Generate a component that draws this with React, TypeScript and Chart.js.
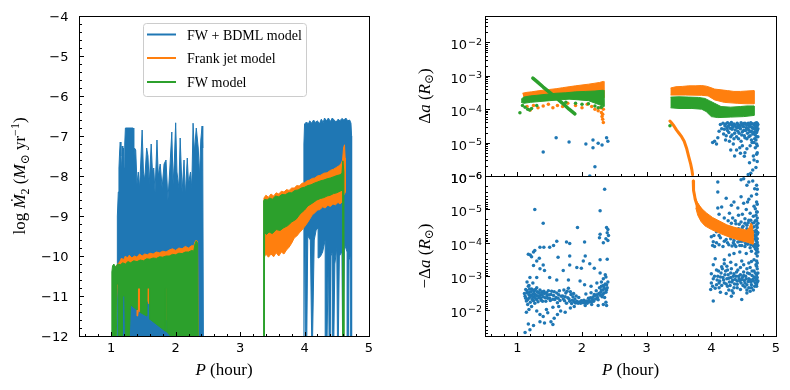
import React, { useEffect, useRef } from 'react';
import Chart from 'chart.js/auto';

type Pt = [number, number];

const BLUE = '#1f77b4';
const ORANGE = '#ff7f0e';
const GREEN = '#2ca02c';
const SERIF = '"Liberation Serif", "DejaVu Serif", serif';
const SANS = '"DejaVu Sans", sans-serif';

const seriesNames = ['FW + BDML model', 'Frank jet model', 'FW model'];
const xMajorTicks = [1, 2, 3, 4, 5];
const leftYTicks = [-12, -11, -10, -9, -8, -7, -6, -5, -4];
const logDecades = [-6, -5, -4, -3, -2];
const LOG_MIN = 1e-6;
const LOG_MAX = 0.0616;

// ---------- Left panel: log Mdot_2 vs P (envelopes of the noisy tracks) ----------
const bdmlSeg1: Pt[] = [
  [1.09, -12], [1.09, -10.2], [1.1, -9.0], [1.11, -8.4], [1.12, -7.8], [1.13, -7.4], [1.14, -7.15], [1.15, -7.5],
  [1.16, -7.9], [1.17, -7.25], [1.18, -7.7], [1.19, -7.3], [1.2, -7.8], [1.21, -7.2], [1.22, -6.8], [1.34, -6.8],
  [1.35, -7.6], [1.36, -7.3], [1.38, -7.35], [1.4, -8.2], [1.42, -7.9], [1.44, -8.3], [1.46, -7.6], [1.48, -6.85],
  [1.5, -7.9], [1.52, -8.1], [1.55, -7.3], [1.57, -7.5], [1.59, -8.2], [1.62, -7.2], [1.64, -7.9], [1.66, -7.8],
  [1.68, -8.4], [1.71, -7.1], [1.73, -8.0], [1.76, -7.7], [1.79, -8.3], [1.82, -7.7], [1.85, -7.6], [1.88, -8.6],
  [1.91, -7.8], [1.94, -6.9], [1.96, -8.2], [1.98, -7.6], [2.0, -6.67], [2.02, -7.9], [2.05, -8.3], [2.07, -7.05],
  [2.1, -8.4], [2.13, -7.6], [2.15, -8.5], [2.18, -7.55], [2.2, -8.2], [2.23, -7.9], [2.25, -8.3], [2.27, -6.68],
  [2.29, -7.4], [2.32, -6.8], [2.35, -7.3], [2.37, -8.0], [2.39, -7.1], [2.41, -6.75], [2.42, -7.3], [2.43, -12],
];
const bdmlSeg2: Pt[] = [
  [3.99, -12], [3.99, -7.2], [4.0, -6.7], [4.03, -6.65], [4.06, -6.7], [4.08, -6.62], [4.11, -6.68], [4.14, -6.6],
  [4.17, -6.66], [4.2, -6.62], [4.23, -6.7], [4.26, -6.58], [4.29, -6.66], [4.31, -6.55], [4.34, -6.62], [4.37, -6.55],
  [4.4, -6.64], [4.43, -6.55], [4.46, -6.6], [4.49, -6.65], [4.52, -6.58], [4.55, -6.62], [4.58, -6.56], [4.61, -6.6],
  [4.64, -6.55], [4.67, -6.62], [4.7, -6.6], [4.72, -6.68], [4.73, -7.0],
  [4.73, -12], [4.715, -12], [4.71, -10.0], [4.69, -10.1], [4.68, -12], [4.665, -12], [4.66, -9.9], [4.62, -9.7],
  [4.605, -12], [4.59, -12], [4.58, -9.9], [4.54, -10.0], [4.525, -12], [4.51, -12], [4.5, -9.8], [4.47, -10.2],
  [4.455, -12], [4.44, -12], [4.43, -9.9], [4.41, -10.0], [4.395, -12], [4.38, -12], [4.37, -9.8], [4.35, -12],
  [4.33, -12], [4.32, -9.6], [4.28, -9.9], [4.25, -10.0], [4.22, -10.05], [4.21, -9.3], [4.18, -9.35], [4.15, -9.6],
  [4.125, -12], [4.11, -12], [4.09, -9.6], [4.05, -9.5], [4.035, -12], [4.02, -12], [4.01, -9.6],
];
const frankSeg1: Pt[] = [
  [1.03, -12], [1.03, -10.35], [1.06, -10.3], [1.1, -10.2], [1.13, -10.15], [1.16, -10.05], [1.19, -10.1], [1.22, -10.0],
  [1.25, -10.05], [1.28, -9.98], [1.32, -10.05], [1.36, -10.0], [1.4, -10.03], [1.44, -9.95], [1.48, -10.0], [1.52, -9.95],
  [1.56, -9.97], [1.6, -9.93], [1.65, -9.95], [1.7, -9.9], [1.75, -9.92], [1.8, -9.88], [1.85, -9.9], [1.9, -9.85],
  [1.95, -9.82], [2.0, -9.86], [2.05, -9.8], [2.1, -9.82], [2.15, -9.76], [2.2, -9.8], [2.25, -9.74], [2.28, -9.75],
  [2.3, -9.65], [2.32, -9.6], [2.34, -9.65], [2.35, -12],
  [2.33, -12], [2.32, -10.6], [1.86, -10.6], [1.855, -11.6], [1.848, -11.6], [1.845, -10.6], [1.6, -10.6], [1.59, -11.2],
  [1.555, -11.1], [1.55, -10.6], [1.455, -10.6], [1.45, -11.4], [1.43, -11.25], [1.41, -11.5], [1.4, -10.6], [1.1, -10.6],
  [1.05, -12],
];
const fwSeg1: Pt[] = [
  [1.01, -12], [1.01, -10.4], [1.02, -10.25], [1.04, -10.2], [1.07, -10.28], [1.1, -10.2], [1.14, -10.22], [1.18, -10.17],
  [1.22, -10.2], [1.26, -10.14], [1.3, -10.17], [1.35, -10.12], [1.4, -10.14], [1.45, -10.1], [1.5, -10.12], [1.55, -10.07],
  [1.6, -10.08], [1.65, -10.05], [1.7, -10.06], [1.75, -10.02], [1.8, -10.03], [1.85, -10.0], [1.9, -10.0], [1.95, -9.96],
  [2.0, -9.97], [2.05, -9.93], [2.1, -9.94], [2.15, -9.9], [2.2, -9.9], [2.25, -9.86], [2.28, -9.88], [2.3, -9.7],
  [2.32, -9.62], [2.34, -9.68], [2.35, -12],
  [1.92, -12], [1.865, -11.9], [1.86, -10.8], [1.845, -10.8], [1.84, -11.88], [1.6, -11.58], [1.595, -10.8], [1.555, -10.8],
  [1.55, -11.5], [1.46, -11.42], [1.455, -10.8], [1.405, -10.8], [1.4, -11.35], [1.3, -11.22], [1.28, -12], [1.22, -12],
  [1.21, -11.0], [1.18, -11.0], [1.17, -12], [1.12, -12], [1.11, -10.7], [1.09, -10.7], [1.08, -12],
];
const frankSeg2: Pt[] = [
  [3.365, -9.9], [3.37, -8.55], [3.4, -8.48], [3.44, -8.53], [3.48, -8.45], [3.52, -8.5], [3.56, -8.42], [3.6, -8.45],
  [3.64, -8.38], [3.68, -8.4], [3.72, -8.34], [3.76, -8.36], [3.8, -8.3], [3.84, -8.3], [3.88, -8.24], [3.92, -8.25],
  [3.96, -8.18], [4.0, -8.17], [4.04, -8.12], [4.08, -8.1], [4.12, -8.06], [4.16, -8.05], [4.2, -8.0], [4.25, -7.98],
  [4.3, -7.93], [4.35, -7.92], [4.4, -7.86], [4.45, -7.83], [4.5, -7.78], [4.54, -7.74], [4.57, -7.68], [4.59, -7.6],
  [4.605, -7.3], [4.62, -7.22], [4.63, -7.55], [4.635, -8.4],
  [4.62, -8.45], [4.6, -8.5], [4.58, -8.65], [4.55, -8.7], [4.52, -8.66], [4.48, -8.72], [4.44, -8.7], [4.4, -8.76],
  [4.36, -8.73], [4.32, -8.8], [4.28, -8.77], [4.24, -8.84], [4.2, -8.85], [4.16, -8.92], [4.12, -8.97], [4.08, -9.08],
  [4.04, -9.18], [4.0, -9.27], [3.96, -9.35], [3.92, -9.42], [3.88, -9.5], [3.84, -9.55], [3.8, -9.68], [3.76, -9.78],
  [3.72, -9.85], [3.68, -9.95], [3.64, -9.9], [3.6, -10.0], [3.56, -9.92], [3.52, -10.02], [3.48, -9.95], [3.44, -10.03],
  [3.4, -9.95], [3.37, -10.05],
];
const fwSeg2: Pt[] = [
  [3.365, -12], [3.365, -8.62], [3.38, -8.58], [3.42, -8.6], [3.46, -8.55], [3.5, -8.58], [3.55, -8.5], [3.6, -8.52],
  [3.65, -8.46], [3.7, -8.47], [3.75, -8.42], [3.8, -8.42], [3.85, -8.36], [3.9, -8.35], [3.95, -8.3], [4.0, -8.28],
  [4.05, -8.24], [4.1, -8.22], [4.15, -8.18], [4.2, -8.15], [4.25, -8.12], [4.3, -8.1], [4.35, -8.07], [4.4, -8.05],
  [4.45, -8.02], [4.5, -7.99], [4.55, -7.97], [4.58, -7.93], [4.595, -7.62], [4.61, -7.9], [4.615, -12], [4.595, -12],
  [4.59, -8.35], [4.55, -8.38], [4.5, -8.42], [4.45, -8.44], [4.4, -8.48], [4.35, -8.5], [4.3, -8.54], [4.25, -8.56],
  [4.19, -8.6], [4.12, -8.68], [4.05, -8.75], [4.0, -8.85], [3.93, -8.95], [3.87, -9.08], [3.8, -9.15], [3.74, -9.24],
  [3.67, -9.3], [3.62, -9.36], [3.56, -9.34], [3.5, -9.44], [3.45, -9.4], [3.41, -9.46], [3.38, -9.42], [3.375, -12],
];

// ---------- Right top panel: Delta a (R_sun) ----------
const topBdml: Pt[] = [
  [1.4, 5.2e-6], [1.6, 1.4e-5], [1.8, 1.05e-5], [2.06, 9e-6], [2.17, 1.2e-5], [2.17, 7e-6], [2.2, 1.9e-6], [2.12, 1.0e-6],
  [2.25, 9.5e-6], [2.31, 8.5e-6], [2.38, 1.4e-5], [2.4, 1.1e-5],
  [4.02, 1.0e-5], [4.05, 1.1e-5], [4.08, 9e-6], [4.1, 1.4e-5], [4.12, 2.2e-5], [4.14, 3.5e-5], [4.16, 2.6e-5], [4.18, 3.8e-5],
  [4.19, 1.8e-5], [4.21, 3.2e-5], [4.22, 1.2e-5], [4.24, 2.8e-5], [4.25, 3.9e-5], [4.27, 2.0e-5], [4.28, 3.4e-5], [4.3, 1.5e-5],
  [4.31, 4.0e-5], [4.32, 2.5e-5], [4.34, 9e-6], [4.35, 3.6e-5], [4.36, 1.9e-5], [4.38, 3.0e-5], [4.39, 6e-6], [4.4, 3.8e-5],
  [4.41, 2.2e-5], [4.42, 1.3e-5], [4.43, 3.3e-5], [4.45, 4.8e-6], [4.45, 2.6e-5], [4.46, 3.9e-5], [4.47, 1.7e-5], [4.48, 8e-6],
  [4.49, 3.1e-5], [4.5, 2.3e-5], [4.51, 3.9e-6], [4.52, 1.4e-5], [4.53, 3.6e-5], [4.54, 2.8e-5], [4.55, 6.5e-6], [4.56, 1.9e-5],
  [4.57, 3.8e-5], [4.57, 1.1e-6], [4.58, 2.4e-5], [4.59, 2.5e-6], [4.6, 3.2e-5], [4.6, 1.6e-5], [4.61, 1.2e-6], [4.62, 3.7e-5],
  [4.63, 1.0e-5], [4.64, 2.7e-5], [4.65, 4.0e-6], [4.66, 3.4e-5], [4.66, 2.0e-5], [4.67, 1.3e-5], [4.68, 3.8e-5], [4.68, 7e-6],
  [4.69, 2.9e-5], [4.69, 1.8e-6], [4.7, 3.9e-5], [4.7, 1.5e-5], [4.71, 2.3e-5], [4.71, 5e-6], [4.72, 3.5e-5], [4.7, 2.6e-5],
  [4.71, 3.2e-5], [4.69, 2.1e-5], [4.7, 9e-6], [4.58, 3.5e-5], [4.5, 3.7e-5], [4.42, 2.9e-5], [4.33, 3.3e-5], [4.62, 2.2e-5],
  [4.2, 2.5e-5], [4.22, 3.6e-5], [4.23, 1.6e-5], [4.25, 2.3e-5], [4.26, 3.1e-5], [4.28, 1.1e-5], [4.29, 2.7e-5], [4.3, 3.7e-5],
  [4.32, 1.7e-5], [4.33, 2.9e-5], [4.35, 1.3e-5], [4.36, 3.3e-5], [4.37, 2.4e-5], [4.39, 1.5e-5], [4.4, 2.8e-5], [4.41, 3.5e-5],
  [4.43, 1.9e-5], [4.44, 2.9e-5], [4.46, 1.1e-5], [4.47, 3.4e-5], [4.48, 2.1e-5], [4.5, 3.0e-5], [4.51, 1.6e-5], [4.52, 3.8e-5],
  [4.53, 2.3e-5], [4.55, 1.3e-5], [4.55, 3.3e-5], [4.56, 2.6e-5], [4.58, 1.5e-5], [4.59, 3.0e-5], [4.6, 2.1e-5], [4.61, 3.9e-5],
  [4.62, 1.2e-5], [4.63, 2.9e-5], [4.64, 1.8e-5], [4.65, 3.6e-5], [4.66, 1.0e-5], [4.67, 2.5e-5], [4.68, 1.7e-5], [4.68, 3.1e-5],
  [4.69, 1.2e-5], [4.7, 4.5e-6], [4.7, 2.0e-5], [4.71, 2.7e-6], [4.71, 8e-6], [4.71, 3.7e-5], [4.72, 1.5e-5], [4.72, 2.6e-5],
  [4.52, 5e-6], [4.44, 7e-6], [4.6, 8e-6], [4.66, 3e-6], [4.3, 6e-6], [4.36, 4e-6], [4.64, 1.5e-6],
];
const topFrankBand1: Pt[] = [
  [1.08, 3.0e-4], [1.15, 3.2e-4], [1.22, 3.3e-4], [1.3, 3.5e-4], [1.4, 3.7e-4], [1.5, 3.9e-4], [1.6, 4.1e-4], [1.7, 4.4e-4],
  [1.8, 4.7e-4], [1.9, 5.0e-4], [2.0, 5.3e-4], [2.1, 5.6e-4], [2.2, 6.0e-4], [2.27, 6.3e-4], [2.33, 6.8e-4],
  [2.34, 2.2e-4], [2.2, 2.4e-4], [2.0, 2.5e-4], [1.8, 2.5e-4], [1.6, 2.4e-4], [1.4, 2.3e-4], [1.25, 2.1e-4], [1.1, 2.0e-4],
];
const topFrankScatter: Pt[] = [
  [1.15, 1.2e-4], [1.2, 9.5e-5], [1.25, 1.3e-4], [1.32, 1.1e-4], [1.4, 1.25e-4], [1.48, 1.4e-4], [1.55, 1.1e-4], [1.62, 1.3e-4],
  [1.7, 1.2e-4], [1.78, 1.5e-4], [1.9, 1.3e-4], [2.0, 1.1e-4], [2.08, 1.4e-4], [2.15, 1.2e-4], [2.2, 1.0e-4], [2.25, 9e-5],
  [2.3, 8e-5], [2.31, 6e-5], [2.32, 5e-5], [2.33, 4e-5], [2.28, 1.1e-4], [2.32, 7e-5], [2.33, 1.0e-4],
];
const topFrankBand2: Pt[] = [
  [3.37, 4.3e-4], [3.45, 4.7e-4], [3.55, 4.8e-4], [3.65, 5.0e-4], [3.75, 5.0e-4], [3.85, 5.1e-4], [3.92, 4.9e-4], [3.98, 4.5e-4],
  [4.05, 4.0e-4], [4.15, 3.8e-4], [4.25, 3.6e-4], [4.35, 3.4e-4], [4.45, 3.4e-4], [4.55, 3.5e-4], [4.66, 3.6e-4],
  [4.66, 1.45e-4], [4.55, 1.45e-4], [4.4, 1.5e-4], [4.2, 1.6e-4], [4.05, 1.9e-4], [3.95, 2.5e-4], [3.85, 2.6e-4], [3.6, 2.65e-4],
  [3.37, 2.65e-4],
];
const topFrankCurve: Pt[] = [
  [3.36, 4.4e-5], [3.38, 4.0e-5], [3.42, 3.2e-5], [3.46, 2.4e-5], [3.5, 1.9e-5], [3.54, 1.5e-5], [3.58, 1.1e-5], [3.62, 6.5e-6],
  [3.65, 3.8e-6], [3.68, 2.3e-6], [3.7, 1.5e-6], [3.71, 1.1e-6],
];
const topFwBand1: Pt[] = [
  [1.06, 2.0e-4], [1.1, 2.3e-4], [1.2, 2.5e-4], [1.3, 2.6e-4], [1.45, 2.8e-4], [1.6, 3.0e-4], [1.75, 3.1e-4], [1.9, 3.3e-4],
  [2.05, 3.4e-4], [2.2, 3.5e-4], [2.33, 3.7e-4],
  [2.34, 1.2e-4], [2.25, 1.4e-4], [2.1, 1.8e-4], [1.95, 1.9e-4], [1.8, 2.0e-4], [1.65, 1.9e-4], [1.5, 1.8e-4], [1.35, 1.7e-4],
  [1.2, 1.6e-4], [1.1, 1.5e-4], [1.06, 1.6e-4],
];
const topFwDiag: Pt[] = [
  [1.24, 8.5e-4], [1.3, 6.8e-4], [1.4, 4.6e-4], [1.5, 3.2e-4], [1.6, 2.2e-4], [1.7, 1.5e-4], [1.8, 1.0e-4], [1.89, 7.2e-5],
];
const topFwScatter: Pt[] = [
  [1.04, 7.8e-5], [1.08, 1.3e-4], [1.12, 1.15e-4], [1.16, 1.0e-4], [1.19, 9.5e-5], [1.22, 1.05e-4], [1.3, 1.3e-4], [1.9, 1.5e-4],
  [2.0, 1.4e-4], [2.1, 1.45e-4], [2.2, 1.25e-4], [2.3, 1.15e-4], [2.25, 1.1e-4], [3.36, 3.2e-5], [1.75, 1.6e-4],
];
const topFwBand2: Pt[] = [
  [3.37, 2.3e-4], [3.5, 2.35e-4], [3.65, 2.3e-4], [3.8, 2.25e-4], [3.9, 2.1e-4], [3.97, 1.8e-4], [4.05, 1.5e-4], [4.15, 1.2e-4],
  [4.3, 1.15e-4], [4.45, 1.2e-4], [4.55, 1.25e-4], [4.66, 1.25e-4],
  [4.66, 6.5e-5], [4.5, 6.0e-5], [4.3, 5.8e-5], [4.1, 5.6e-5], [4.0, 6.0e-5], [3.92, 8.5e-5], [3.85, 1.0e-4], [3.7, 1.05e-4],
  [3.5, 1.05e-4], [3.37, 1.1e-4],
];

// ---------- Right bottom panel: -Delta a (R_sun) ----------
const botFrankCurve: Pt[] = [
  [3.72, 1.4e-6], [3.72, 1.9e-6], [3.73, 2.7e-6], [3.74, 3.8e-6], [3.75, 5e-6], [3.77, 6.5e-6], [3.8, 8e-6], [3.84, 1.0e-5],
];
const botFrankBand: Pt[] = [
  [3.74, 3.8e-6], [3.78, 6e-6], [3.84, 9e-6], [3.93, 1.3e-5], [4.02, 1.75e-5], [4.12, 2.2e-5], [4.24, 2.9e-5], [4.35, 3.4e-5],
  [4.45, 3.8e-5], [4.55, 4.2e-5], [4.59, 3.4e-5], [4.61, 2.6e-5], [4.63, 2.8e-5], [4.645, 4.5e-5],
  [4.645, 1.1e-4], [4.55, 9.5e-5], [4.45, 8.5e-5], [4.3, 7e-5], [4.15, 5.4e-5], [4.0, 4.0e-5], [3.9, 3.1e-5], [3.84, 2.3e-5],
  [3.79, 1.5e-5], [3.76, 9e-6],
];
const botBdmlShort: Pt[] = [
  [2.35, 2.5e-6], [1.27, 1.0e-5], [1.4, 2.6e-5], [2.28, 1.1e-5], [1.93, 3.5e-5], [2.38, 3.5e-5], [2.39, 5e-5], [2.28, 5.5e-5],
  [2.37, 7.5e-5], [2.27, 7e-5], [2.33, 1.0e-4], [2.4, 4e-5], [2.41, 6e-5], [2.4, 8.5e-5],
  [1.61, 9e-5], [1.76, 9.5e-5], [1.81, 1.05e-4], [2.04, 9.5e-5], [1.35, 1.35e-4], [1.41, 1.35e-4], [1.5, 1.35e-4], [1.56, 1.2e-4],
  [1.27, 1.7e-4], [1.25, 1.9e-4], [1.2, 2.3e-4], [1.22, 2.6e-4], [1.17, 2.2e-4], [1.63, 2.7e-4], [1.81, 2.5e-4], [2.05, 2.5e-4],
  [2.02, 3.5e-4], [2.12, 4.2e-4], [2.28, 3.2e-4], [2.39, 3.1e-4], [1.34, 2.9e-4], [1.3, 3.5e-4], [1.4, 4.6e-4], [1.25, 4.8e-4],
  [1.35, 6e-4], [1.42, 6.8e-4], [1.71, 6.8e-4], [1.81, 4.6e-4], [1.92, 5.5e-4], [1.99, 5.8e-4], [2.19, 5.8e-4], [2.28, 8e-4],
  [2.37, 1.05e-3], [1.195, 1.1e-3], [1.3, 1.1e-3], [1.5, 1.1e-3], [1.61, 1.3e-3], [1.79, 1.3e-3], [1.97, 1.4e-3], [2.04, 1.8e-3],
  [2.14, 2.0e-3], [2.23, 1.6e-3], [2.3, 1.5e-3], [2.38, 1.8e-3], [1.15, 1.5e-3], [1.18, 1.9e-3], [1.24, 1.6e-3], [2.33, 1.2e-3],
  [2.36, 9e-4],
  [1.12, 4e-3], [1.13, 2.5e-3], [1.14, 5.5e-3], [1.15, 3.2e-3], [1.16, 7e-3], [1.17, 2e-3], [1.18, 4.5e-3], [1.19, 3e-3],
  [1.2, 6e-3], [1.21, 3.8e-3], [1.22, 2.4e-3], [1.23, 5e-3], [1.24, 3.4e-3], [1.25, 4.2e-3], [1.26, 2.8e-3], [1.27, 6.5e-3],
  [1.28, 3.6e-3], [1.29, 4.8e-3], [1.3, 2.2e-3], [1.31, 3.9e-3], [1.32, 5.8e-3], [1.33, 3.1e-3], [1.34, 4.4e-3], [1.35, 2.6e-3],
  [1.36, 3.7e-3], [1.37, 5.2e-3], [1.38, 2.9e-3], [1.4, 4.1e-3], [1.42, 3.3e-3], [1.44, 5.6e-3], [1.46, 3.8e-3], [1.48, 2.7e-3],
  [1.5, 4.6e-3], [1.52, 3.5e-3], [1.55, 4.9e-3], [1.57, 2.9e-3], [1.6, 4.3e-3], [1.62, 6.2e-3], [1.64, 3.6e-3], [1.66, 5.3e-3],
  [1.7, 3.9e-3], [1.72, 2.6e-3], [1.73, 5.4e-3], [1.75, 3.2e-3], [1.76, 6.4e-3], [1.78, 4.4e-3], [1.79, 2.3e-3], [1.81, 5.6e-3],
  [1.83, 3.5e-3], [1.84, 6.6e-3], [1.86, 4.1e-3], [1.88, 5.8e-3], [1.9, 6.3e-3], [1.92, 5.6e-3], [1.94, 6.4e-3], [1.96, 5.9e-3],
  [1.98, 6.5e-3], [2.0, 5.6e-3], [2.02, 6.2e-3], [2.04, 5.8e-3], [2.06, 3.4e-3], [2.08, 6.4e-3], [2.1, 4.6e-3], [2.12, 5.9e-3],
  [2.14, 3.1e-3], [2.16, 4.9e-3], [2.18, 5.6e-3], [2.2, 3.8e-3], [2.22, 2.7e-3], [2.24, 4.3e-3], [2.26, 3.3e-3], [2.27, 2.2e-3],
  [2.29, 3.0e-3], [2.3, 2.0e-3], [2.31, 4.1e-3], [2.32, 2.6e-3], [2.33, 1.9e-3], [2.34, 3.2e-3], [2.35, 2.4e-3], [2.36, 1.7e-3],
  [2.38, 2.6e-3], [2.4, 1.5e-3], [2.38, 7.5e-3],
  [1.11, 3.3e-3], [1.13, 4.6e-3], [1.15, 2.7e-3], [1.16, 5e-3], [1.18, 3.6e-3], [1.19, 2.4e-3], [1.2, 4.2e-3], [1.21, 2.9e-3],
  [1.23, 3.9e-3], [1.24, 2.6e-3], [1.25, 5.4e-3], [1.26, 3.3e-3], [1.27, 4.4e-3], [1.28, 2.5e-3], [1.29, 3.7e-3], [1.3, 5e-3],
  [1.31, 2.9e-3], [1.33, 4.0e-3], [1.34, 3.2e-3], [1.36, 4.6e-3], [1.38, 3.5e-3], [1.39, 5.6e-3], [1.41, 2.8e-3], [1.43, 4.4e-3],
  [1.45, 3.1e-3], [1.47, 4.6e-3], [1.49, 3.6e-3], [1.51, 5.3e-3], [1.53, 2.8e-3], [1.56, 3.8e-3], [1.58, 5.0e-3], [1.61, 3.2e-3],
  [1.63, 4.6e-3], [1.65, 2.7e-3], [1.68, 4.0e-3], [1.71, 4.8e-3], [1.74, 4.1e-3], [1.77, 2.8e-3], [1.8, 4.8e-3], [1.82, 2.9e-3],
  [1.85, 5.2e-3], [1.87, 3.3e-3], [1.89, 4.8e-3], [1.91, 3.9e-3], [1.93, 6.0e-3], [1.95, 4.3e-3], [1.97, 6.1e-3], [1.99, 5.4e-3],
  [2.01, 5.9e-3], [2.03, 5.2e-3], [2.05, 6.1e-3], [2.07, 5.5e-3], [2.09, 5.8e-3], [2.11, 5.3e-3], [2.13, 4.4e-3], [2.15, 5.7e-3],
  [2.17, 4.2e-3], [2.19, 3.5e-3], [2.21, 4.8e-3], [2.23, 3.6e-3], [2.25, 5.1e-3], [2.28, 3.7e-3], [2.3, 2.6e-3], [2.32, 3.5e-3],
  [2.34, 2.1e-3], [2.35, 4.3e-3], [2.37, 3.0e-3], [2.39, 2.2e-3],
  [1.12, 4.8e-2], [1.195, 4.0e-2], [1.25, 3.0e-2], [1.17, 2.7e-2], [1.35, 2.3e-2], [1.4, 1.6e-2], [1.42, 2.5e-2], [1.52, 2.3e-2],
  [1.55, 2.8e-2], [1.35, 1.4e-2], [1.47, 1.25e-2], [1.57, 1.8e-2], [1.62, 1.4e-2], [1.3, 1.1e-2], [1.22, 8e-3], [1.67, 1.1e-2],
  [1.64, 8e-3], [1.74, 1.2e-2], [1.82, 9e-3], [1.55, 8.5e-3], [1.14, 1.2e-2], [1.18, 1.0e-2], [1.45, 1.0e-2], [1.88, 8e-3],
  [2.05, 7.5e-3], [2.15, 7e-3], [2.25, 7.5e-3], [2.33, 7e-3], [2.37, 6e-3],
];
const botBdmlLong: Pt[] = [
  [4.1, 1.5e-6], [4.1, 3e-6], [4.46, 1.3e-6], [4.5, 1.2e-6], [4.55, 1.9e-6], [4.58, 1.5e-6], [4.64, 1.4e-6], [4.67, 2.4e-6],
  [4.7, 1.9e-6], [4.23, 4.6e-6], [4.16, 8.5e-6], [4.31, 7.5e-6], [4.35, 6e-6], [4.41, 9e-6], [4.28, 1.3e-5], [4.1, 9e-6],
  [4.46, 4.2e-6], [4.5, 6.5e-6], [4.54, 1e-5], [4.58, 5e-6], [4.0, 6.6e-5], [4.03, 9.3e-5], [4.08, 4.7e-5], [4.12, 1.15e-4],
  [4.16, 2.8e-5], [4.2, 4e-5], [4.05, 1.3e-4], [4.23, 8e-5],
  [4.26, 2.2e-5], [4.3, 3.5e-5], [4.33, 1.8e-5], [4.36, 5e-5], [4.38, 2.7e-5], [4.4, 7e-5], [4.42, 1.5e-5], [4.44, 4.2e-5],
  [4.46, 2.4e-5], [4.47, 9e-5], [4.49, 3.2e-5], [4.5, 5.5e-5], [4.52, 1.9e-5], [4.53, 7.5e-5], [4.55, 3e-5], [4.56, 1.1e-4],
  [4.57, 4.5e-5], [4.58, 2.1e-5], [4.59, 6.5e-5], [4.6, 1.3e-5], [4.61, 3.8e-5], [4.62, 8.5e-5], [4.63, 2.6e-5], [4.64, 5e-5],
  [4.65, 1.2e-4], [4.65, 1.6e-5], [4.66, 3.3e-5], [4.67, 6e-5], [4.68, 9.5e-6], [4.68, 2.2e-5], [4.69, 4.2e-5], [4.69, 8e-5],
  [4.7, 1.3e-4], [4.7, 6e-6], [4.7, 3e-5], [4.71, 1.8e-5], [4.71, 5.5e-5], [4.71, 1.0e-4], [4.7, 3.5e-6], [4.71, 1.2e-5],
  [4.34, 1.0e-4], [4.28, 6e-5], [4.32, 1.25e-4], [4.38, 1.3e-4], [4.44, 1.2e-4], [4.52, 1.3e-4], [4.6, 1.4e-4], [4.68, 1.5e-4],
  [4.48, 1.4e-5], [4.42, 3.8e-5], [4.56, 6e-6], [4.62, 4e-6], [4.66, 8e-6], [4.25, 1.0e-4], [4.18, 1.3e-4], [4.12, 6e-5],
  [4.28, 4.5e-5], [4.3, 7.5e-5], [4.31, 2.6e-5], [4.33, 5.5e-5], [4.34, 3.8e-5], [4.35, 8.5e-5], [4.37, 2.2e-5], [4.38, 6.5e-5],
  [4.39, 4.4e-5], [4.41, 9.5e-5], [4.42, 5.2e-5], [4.43, 2.8e-5], [4.45, 6.8e-5], [4.46, 4.6e-5], [4.47, 1.2e-4], [4.48, 3.5e-5],
  [4.5, 8.8e-5], [4.51, 4.8e-5], [4.52, 2.6e-5], [4.53, 1.05e-4], [4.54, 6e-5], [4.55, 3.8e-5], [4.56, 7.8e-5], [4.57, 2.5e-5],
  [4.58, 9.5e-5], [4.59, 4.4e-5], [4.6, 6.8e-5], [4.61, 1.15e-4], [4.61, 2.1e-5], [4.62, 5.5e-5], [4.63, 3.6e-5], [4.64, 8.8e-5],
  [4.65, 4.6e-5], [4.66, 1.3e-4], [4.66, 2.5e-5], [4.67, 7.5e-5], [4.68, 4.8e-5], [4.68, 1.1e-4], [4.69, 1.5e-5], [4.69, 6.5e-5],
  [4.7, 2.2e-5], [4.7, 4.6e-5], [4.7, 9e-5], [4.71, 7e-6], [4.71, 3.5e-5], [4.71, 7.5e-5], [4.71, 1.5e-4], [4.72, 2.6e-5],
  [4.72, 5e-5], [4.72, 1.2e-4], [4.7, 1.2e-5], [4.71, 2.5e-6], [4.7, 1.7e-4], [4.72, 1.9e-4], [4.36, 1.15e-4], [4.44, 9e-5],
  [4.27, 1.15e-4], [4.2, 9e-5], [4.14, 7e-5], [4.08, 1.0e-4], [4.04, 6e-5], [4.02, 1.2e-4], [4.1, 2.5e-5], [4.2, 1.8e-5],
  [4.12, 1.4e-5],
  [4.06, 3e-4], [4.03, 4.5e-4], [4.0, 8.5e-4], [4.03, 1.2e-3], [4.0, 1.6e-3], [4.06, 2.3e-3], [3.99, 2.5e-3], [4.03, 5.5e-3],
  [4.23, 3.3e-3], [4.31, 4e-3], [4.08, 6.5e-4], [4.16, 5.2e-4], [4.2, 3.2e-4], [4.28, 2.3e-4], [4.35, 2.1e-4], [4.44, 1.9e-4],
  [4.54, 2.1e-4], [4.62, 1.8e-4], [4.69, 2.1e-4], [4.34, 3.2e-3], [4.55, 2.6e-3], [4.47, 5.0e-3],
  [4.1, 1.0e-3], [4.13, 1.4e-3], [4.15, 8e-4], [4.18, 1.1e-3], [4.2, 1.6e-3], [4.22, 7e-4], [4.24, 1.2e-3], [4.26, 9e-4],
  [4.28, 1.5e-3], [4.3, 1.1e-3], [4.31, 6e-4], [4.33, 1.3e-3], [4.35, 8.5e-4], [4.36, 1.7e-3], [4.38, 1.0e-3], [4.4, 1.4e-3],
  [4.41, 6.5e-4], [4.43, 1.2e-3], [4.45, 9e-4], [4.46, 1.6e-3], [4.48, 1.1e-3], [4.5, 7.5e-4], [4.51, 1.35e-3], [4.53, 1.0e-3],
  [4.55, 1.8e-3], [4.56, 8e-4], [4.58, 1.2e-3], [4.6, 5.5e-4], [4.61, 1.5e-3], [4.63, 9.5e-4], [4.64, 1.25e-3], [4.66, 7e-4],
  [4.67, 1.1e-3], [4.68, 1.6e-3], [4.69, 4.5e-4], [4.7, 9e-4], [4.7, 1.3e-3], [4.71, 6e-4], [4.71, 1.5e-3], [4.12, 2.2e-3],
  [4.25, 2.0e-3], [4.4, 2.2e-3], [4.52, 2.1e-3], [4.62, 2.2e-3], [4.38, 4.5e-4], [4.47, 3.5e-4], [4.58, 4e-4], [4.66, 3.2e-4],
  [4.24, 5e-4], [4.32, 2.7e-3], [4.45, 2.5e-3], [4.6, 2.8e-3], [4.7, 2.0e-3], [4.08, 1.8e-3], [4.14, 3e-3],
  [4.09, 1.3e-3], [4.11, 7e-4], [4.12, 1.6e-3], [4.14, 1.05e-3], [4.16, 1.9e-3], [4.17, 6e-4], [4.19, 1.3e-3], [4.21, 9e-4],
  [4.23, 1.7e-3], [4.25, 6.5e-4], [4.27, 1.15e-3], [4.29, 1.9e-3], [4.3, 8e-4], [4.32, 1.5e-3], [4.34, 1.0e-3], [4.35, 2.2e-3],
  [4.37, 1.25e-3], [4.39, 7.5e-4], [4.4, 1.75e-3], [4.42, 1.0e-3], [4.44, 1.4e-3], [4.45, 5.5e-4], [4.47, 1.25e-3], [4.49, 1.9e-3],
  [4.5, 9.5e-4], [4.52, 1.6e-3], [4.54, 1.2e-3], [4.55, 6e-4], [4.57, 1.45e-3], [4.58, 2.2e-3], [4.59, 8.5e-4], [4.6, 1.3e-3],
  [4.62, 1.8e-3], [4.63, 7e-4], [4.65, 1.4e-3], [4.66, 1.05e-3], [4.67, 2.0e-3], [4.68, 8e-4], [4.69, 1.3e-3], [4.7, 5e-4],
  [4.7, 1.7e-3], [4.71, 1.1e-3], [4.71, 2.5e-4], [4.72, 8e-4], [4.72, 1.4e-3], [4.7, 3.5e-4], [4.71, 4e-4], [4.2, 4.2e-4],
  [4.3, 3.8e-4], [4.5, 4.5e-4], [4.62, 3.6e-4], [4.05, 1.0e-3], [4.02, 2.0e-3], [4.27, 2.6e-3], [4.55, 3.2e-3], [4.65, 2.6e-3],
];

// ---------- helpers ----------
type Seg = { t: string; f: string; dy?: number };
const R17 = `17px ${SERIF}`;
const I17 = `italic 17px ${SERIF}`;
const S12 = `12px ${SERIF}`;

const leftYTitle: Seg[] = [
  { t: 'log ', f: R17 }, { t: '\u1E40', f: I17 }, { t: '2', f: S12, dy: 3.5 }, { t: ' (', f: R17 },
  { t: 'M', f: I17 }, { t: '\u2299', f: S12, dy: 3.5 }, { t: ' yr', f: R17 }, { t: '\u22121', f: S12, dy: -6.5 }, { t: ')', f: R17 },
];
const topYTitle: Seg[] = [
  { t: '\u0394', f: R17 }, { t: 'a', f: I17 }, { t: ' (', f: R17 }, { t: 'R', f: I17 }, { t: '\u2299', f: S12, dy: 3.5 }, { t: ')', f: R17 },
];
const botYTitle: Seg[] = [{ t: '\u2212', f: R17 }, ...topYTitle];
const xTitle: Seg[] = [{ t: 'P', f: I17 }, { t: ' (hour)', f: R17 }];

function drawRich(ctx: CanvasRenderingContext2D, segs: Seg[], cx: number, cy: number, rot: boolean) {
  ctx.save();
  ctx.translate(cx, cy);
  if (rot) ctx.rotate(-Math.PI / 2);
  ctx.textAlign = 'left';
  ctx.textBaseline = 'alphabetic';
  ctx.fillStyle = '#000';
  let total = 0;
  const ws = segs.map((s) => { ctx.font = s.f; const w = ctx.measureText(s.t).width; total += w; return w; });
  let x = -total / 2;
  segs.forEach((s, i) => { ctx.font = s.f; ctx.fillText(s.t, x, s.dy || 0); x += ws[i]; });
  ctx.restore();
}

type DecorSpec = { xLabels: boolean; yKind: 'lin' | 'log'; xTitle: boolean; yTitle: Seg[]; yTitleX: number; legend: boolean };

function decorPlugin(spec: DecorSpec) {
  return {
    id: 'decor',
    afterDraw(chart: any) {
      const ctx: CanvasRenderingContext2D = chart.ctx;
      const a = chart.chartArea;
      const xs = chart.scales.x;
      const ys = chart.scales.y;
      ctx.save();
      ctx.strokeStyle = '#000';
      ctx.fillStyle = '#000';
      ctx.lineWidth = 1;
      ctx.strokeRect(a.left + 0.5, a.top + 0.5, a.right - a.left, a.bottom - a.top);
      const xTick = (v: number, len: number) => {
        const p = Math.round(xs.getPixelForValue(v)) + 0.5;
        ctx.beginPath(); ctx.moveTo(p, a.bottom + 0.5); ctx.lineTo(p, a.bottom + 0.5 - len); ctx.stroke();
      };
      const yTick = (v: number, len: number) => {
        const p = Math.round(ys.getPixelForValue(v)) + 0.5;
        ctx.beginPath(); ctx.moveTo(a.left + 0.5, p); ctx.lineTo(a.left + 0.5 + len, p); ctx.stroke();
      };
      for (let i = 3; i <= 24; i++) if (i % 5 !== 0) xTick(i / 5, 2.5);
      xMajorTicks.forEach((v) => xTick(v, 4.5));
      if (spec.yKind === 'lin') {
        for (let i = -59; i <= -21; i++) if (i % 5 !== 0) yTick(i / 5, 2.5);
        leftYTicks.forEach((v) => yTick(v, 4.5));
      } else {
        logDecades.forEach((k) => {
          for (let m = 2; m <= 9; m++) { const v = m * Math.pow(10, k); if (v < LOG_MAX) yTick(v, 2.5); }
          yTick(Math.pow(10, k), 4.5);
        });
      }
      ctx.textBaseline = 'alphabetic';
      ctx.font = `13px ${SANS}`;
      if (spec.xLabels) {
        ctx.textAlign = 'center';
        xMajorTicks.forEach((v) => ctx.fillText(String(v), xs.getPixelForValue(v), a.bottom + 16));
      }
      if (spec.yKind === 'lin') {
        ctx.textAlign = 'right';
        leftYTicks.forEach((v) => ctx.fillText((v < 0 ? '\u2212' : '') + Math.abs(v), a.left - 10.5, ys.getPixelForValue(v) + 4.7));
      } else {
        ctx.textAlign = 'left';
        logDecades.forEach((k) => {
          const p = ys.getPixelForValue(Math.pow(10, k));
          const sup = '\u2212' + String(-k);
          ctx.font = `13px ${SANS}`;
          const w1 = ctx.measureText('10').width;
          ctx.font = `9.5px ${SANS}`;
          const w2 = ctx.measureText(sup).width;
          const x0 = a.left - 3 - w2 - w1 - 1;
          ctx.font = `13px ${SANS}`;
          ctx.fillText('10', x0, p + 7);
          ctx.font = `9.5px ${SANS}`;
          ctx.fillText(sup, x0 + w1 + 1, p + 2.5);
        });
      }
      if (spec.xTitle) drawRich(ctx, xTitle, (a.left + a.right) / 2, a.bottom + 38.5, false);
      drawRich(ctx, spec.yTitle, spec.yTitleX, (a.top + a.bottom) / 2, true);
      if (spec.legend) {
        ctx.beginPath();
        ctx.roundRect(143.5, 23.5, 163, 73, 3);
        ctx.fillStyle = 'rgba(255,255,255,0.8)';
        ctx.fill();
        ctx.strokeStyle = '#cccccc';
        ctx.stroke();
        const cols = [BLUE, ORANGE, GREEN];
        const rows = [34.5, 58, 82];
        seriesNames.forEach((n, i) => {
          ctx.strokeStyle = cols[i];
          ctx.lineWidth = 2;
          ctx.beginPath(); ctx.moveTo(147, rows[i]); ctx.lineTo(176, rows[i]); ctx.stroke();
          ctx.fillStyle = '#000';
          ctx.font = `14px ${SERIF}`;
          ctx.textAlign = 'left';
          ctx.fillText(n, 187, rows[i] + 5);
        });
      }
      ctx.restore();
    },
  };
}

const xy = (a: Pt[]) => a.map(([x, y]) => ({ x, y }));
const area = (a: Pt[], color: string, order: number) => ({
  type: 'line', data: xy(a), borderColor: color, backgroundColor: color, borderWidth: 1, borderJoinStyle: 'bevel',
  pointRadius: 0, pointHoverRadius: 0, fill: 'shape', tension: 0, order, clip: 0,
});
const trace = (a: Pt[], color: string, width: number, order: number) => ({
  type: 'line', data: xy(a), borderColor: color, backgroundColor: color, borderWidth: width, borderCapStyle: 'round',
  borderJoinStyle: 'round', pointRadius: 0, pointHoverRadius: 0, fill: false, tension: 0, order, clip: 0,
});
const dots = (a: Pt[], color: string, order: number) => ({
  type: 'scatter', data: xy(a), backgroundColor: color, borderColor: color, pointRadius: 1.75, pointBorderWidth: 0,
  pointHoverRadius: 0, order, clip: 0,
});

const hidden = { display: false, drawTicks: false };
const xScale = (h: number) => ({
  type: 'linear', min: 0.5, max: 5, ticks: { display: false }, grid: hidden, border: { display: false },
  afterFit: (ax: any) => { ax.height = h; },
});

function config(datasets: any[], padding: any, x: any, y: any, spec: DecorSpec): any {
  return {
    type: 'scatter',
    data: { datasets },
    options: {
      animation: false,
      responsive: false,
      devicePixelRatio: 1,
      events: [],
      layout: { padding },
      plugins: { legend: { display: false }, tooltip: { enabled: false } },
      scales: { x, y },
    },
    plugins: [decorPlugin(spec)],
  };
}

export default function App() {
  const leftRef = useRef<HTMLCanvasElement>(null);
  const topRef = useRef<HTMLCanvasElement>(null);
  const botRef = useRef<HTMLCanvasElement>(null);

  useEffect(() => {
    const left = new Chart(leftRef.current!, config(
      [
        area(fwSeg1, GREEN, 1), area(fwSeg2, GREEN, 1),
        area(frankSeg1, ORANGE, 2), area(frankSeg2, ORANGE, 2),
        area(bdmlSeg1, BLUE, 3), area(bdmlSeg2, BLUE, 3),
      ],
      { left: 0, right: 21, top: 16, bottom: 0 },
      xScale(54),
      { type: 'linear', min: -12, max: -4, ticks: { display: false }, grid: hidden, border: { display: false }, afterFit: (ax: any) => { ax.width = 79; } },
      { xLabels: true, yKind: 'lin', xTitle: true, yTitle: leftYTitle, yTitleX: 25, legend: true },
    ));
    const logY = (reverse: boolean) => ({
      type: 'logarithmic', min: LOG_MIN, max: LOG_MAX, reverse, ticks: { display: false }, grid: hidden, border: { display: false },
      afterFit: (ax: any) => { ax.width = 85; },
    });
    const top = new Chart(topRef.current!, config(
      [
        area(topFwBand1, GREEN, 1), area(topFwBand2, GREEN, 1), trace(topFwDiag, GREEN, 3.5, 1), dots(topFwScatter, GREEN, 1),
        area(topFrankBand1, ORANGE, 2), area(topFrankBand2, ORANGE, 2), trace(topFrankCurve, ORANGE, 3, 2), dots(topFrankScatter, ORANGE, 2),
        dots(topBdml, BLUE, 3),
      ],
      { left: 0, right: 14, top: 16, bottom: 0 },
      xScale(14),
      logY(false),
      { xLabels: false, yKind: 'log', xTitle: false, yTitle: topYTitle, yTitleX: 29.5, legend: false },
    ));
    const bot = new Chart(botRef.current!, config(
      [
        area(botFrankBand, ORANGE, 2), trace(botFrankCurve, ORANGE, 3, 2),
        dots(botBdmlShort, BLUE, 3), dots(botBdmlLong, BLUE, 3),
      ],
      { left: 0, right: 14, top: 16, bottom: 0 },
      xScale(54),
      logY(true),
      { xLabels: true, yKind: 'log', xTitle: true, yTitle: botYTitle, yTitleX: 29.5, legend: false },
    ));
    return () => { left.destroy(); top.destroy(); bot.destroy(); };
  }, []);

  return (
    <div style={{ position: 'absolute', left: 0, top: 0, width: 790, height: 390, background: '#fff', overflow: 'hidden' }}>
      <canvas ref={leftRef} width={390} height={390} style={{ position: 'absolute', left: 0, top: 0 }} />
      <canvas ref={topRef} width={390} height={190} style={{ position: 'absolute', left: 400, top: 0 }} />
      <canvas ref={botRef} width={390} height={230} style={{ position: 'absolute', left: 400, top: 160 }} />
    </div>
  );
}
